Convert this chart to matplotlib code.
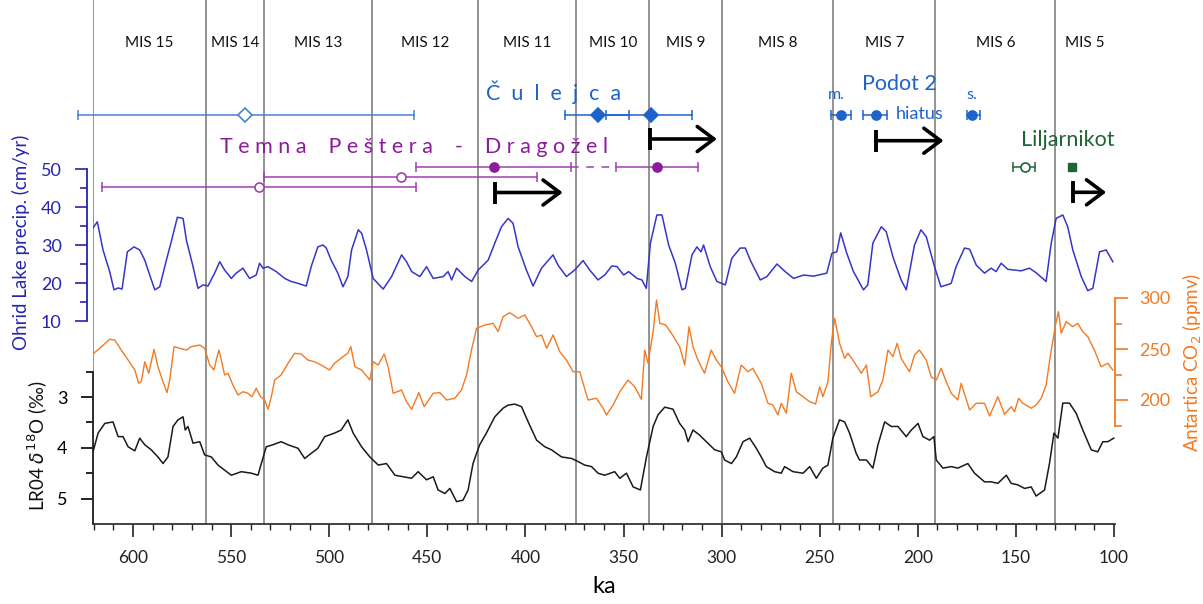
import matplotlib
matplotlib.use("Agg")
import matplotlib.pyplot as plt
from matplotlib.ticker import FixedLocator

plt.rcParams['font.family'] = ['Lato', 'DejaVu Sans']
plt.rcParams['mathtext.fontset'] = 'dejavusans'

# ---- curves (ka, value) ----
precip_ka = [620.4, 618.2, 615.3, 611.9, 609.7, 607.6, 605.6, 602.9, 599.5, 596.6, 594.0, 591.5,
             588.9, 586.4, 583.0, 580.5, 577.4, 574.5, 572.8, 569.4, 566.9, 564.3, 561.8, 558.4,
             555.8, 553.3, 549.9, 547.4, 544.0, 540.6, 537.2, 535.5, 533.8, 531.2, 527.0, 522.7,
             519.4, 515.9, 511.7, 509.2, 505.8, 503.2, 501.5, 499.0, 495.6, 493.0, 490.5,
             488.6, 485.2, 483.5, 481.0, 477.6, 472.5, 468.2, 463.1, 460.6, 458.0, 453.8, 450.4,
             447.0, 441.9, 439.4, 437.6, 435.1, 430.9, 427.4, 424.1, 419.0, 415.6, 412.2, 408.8,
             406.3, 403.7, 399.5, 396.1, 391.8, 385.9, 383.4, 379.1, 374.9, 370.6, 367.2, 363.0,
             359.6, 355.9, 353.3, 349.9, 347.4, 343.1, 340.6, 338.4, 336.3, 333.0, 330.4, 327.0,
             323.6, 320.2, 318.5, 315.1, 312.6, 310.5, 309.2, 305.8, 302.4, 298.1, 294.8, 290.5,
             287.9, 285.4, 280.3, 276.9, 271.8, 267.6, 263.3, 258.2, 253.1, 246.4, 243.8, 241.3,
             239.3, 236.2, 232.8, 227.7, 225.5, 222.9, 218.6, 216.1, 212.7, 208.5, 205.9, 201.7,
             198.4, 195.7, 191.5, 188.2, 183.0, 180.5, 176.2, 173.6, 170.2, 166.0, 162.6, 160.1,
             157.5, 154.1, 150.7, 147.3, 143.1, 139.7, 134.6, 132.0, 129.5, 126.1, 123.6, 121.0,
             116.7, 113.4, 110.8, 107.4, 104.0, 100.6]
precip_val = [34.5, 36.1, 28.7, 23.0, 18.2, 18.7, 18.4, 28.2, 29.5, 28.7, 26.0, 22.1,
              18.2, 19.0, 26.0, 30.9, 37.3, 37.0, 31.3, 24.3, 18.6, 19.5, 19.2, 22.6,
              25.6, 23.4, 21.2, 22.6, 23.9, 21.2, 22.1, 25.2, 23.9, 24.3, 23.0, 21.2,
              20.4, 19.9, 19.2, 24.3, 29.5, 30.0, 29.2, 26.0, 22.6, 19.0, 21.7,
              28.7, 34.0, 33.1, 28.7, 21.2, 18.4, 21.7, 27.4, 25.6, 23.0, 21.7, 24.3,
              21.2, 21.7, 23.0, 20.8, 23.9, 21.7, 20.4, 23.4, 26.0, 30.5, 34.8, 37.0,
              35.7, 29.5, 23.4, 19.2, 23.9, 27.4, 24.7, 21.7, 23.4, 25.9, 23.4, 20.8,
              22.1, 24.5, 24.3, 22.1, 23.0, 21.2, 20.8, 18.6, 30.5, 37.9, 37.9, 30.0,
              25.2, 18.2, 18.6, 27.4, 29.5, 28.2, 30.0, 24.3, 20.4, 19.5, 26.5, 29.2,
              29.2, 26.0, 20.8, 21.7, 25.0, 23.0, 21.2, 22.1, 21.8, 22.6, 27.8, 28.2,
              33.2, 27.8, 23.0, 18.2, 19.5, 30.5, 34.8, 33.5, 26.9, 20.8, 18.2, 30.0,
              34.0, 32.2, 24.3, 19.0, 19.9, 24.3, 29.2, 28.9, 24.7, 22.6, 23.9, 23.0,
              25.2, 23.6, 23.4, 23.2, 23.9, 22.7, 20.4, 30.5, 37.0, 37.9, 34.8, 28.7,
              21.7, 18.0, 18.6, 28.2, 28.7, 25.6]

co2_ka = [620.4, 616.1, 611.9, 609.3, 606.0, 602.5, 599.1, 597.1, 595.8, 594.0, 592.0, 589.3,
          587.3, 584.7, 582.7, 581.3, 579.1, 576.2, 572.8, 570.3, 566.0, 563.5, 560.9, 558.7,
          557.6, 556.2, 555.0, 553.3, 551.6, 549.1, 546.5, 544.0, 541.4, 539.4, 537.2, 535.0,
          532.9, 531.2, 529.5, 527.8, 524.5, 521.0, 517.6, 514.3, 510.9, 507.4, 504.1, 499.8,
          497.3, 493.0, 490.5, 489.0, 486.9, 483.5, 479.3, 477.6, 475.0, 472.0, 470.0, 467.4,
          463.1, 460.6, 458.0, 454.3, 451.6, 447.0, 443.6, 440.2, 436.0, 432.6, 430.0, 427.5,
          424.9, 420.7, 416.5, 413.9, 411.4, 408.0, 403.7, 400.3, 396.9, 394.3, 391.8, 389.2,
          385.9, 382.5, 379.1, 375.7, 372.3, 368.1, 363.8, 360.4, 358.7, 355.3, 351.9, 347.7,
          344.3, 340.9, 339.2, 337.5, 334.9, 333.2, 331.5, 328.5, 325.6, 321.4, 318.8, 316.6,
          314.6, 312.1, 308.7, 305.3, 302.7, 300.2, 296.8, 293.4, 290.0, 286.6, 284.1, 279.8,
          276.4, 273.9, 271.3, 269.6, 267.0, 264.5, 261.9, 258.5, 255.1, 252.1, 250.0, 248.4,
          245.8, 244.1, 242.4, 239.9, 237.3, 235.6, 233.1, 228.8, 226.2, 224.0, 220.3, 217.8,
          215.2, 212.7, 210.5, 208.5, 205.9, 204.2, 201.7, 199.2, 195.7, 193.2, 190.6, 188.1,
          185.5, 183.0, 179.6, 177.9, 173.6, 170.2, 166.0, 163.4, 159.2, 155.8, 152.4, 150.7,
          148.6, 146.5, 142.2, 139.7, 137.1, 134.6, 132.0, 129.5, 128.3, 126.9, 124.4, 121.0,
          118.5, 115.9, 113.4, 110.0, 106.6, 103.2, 100.6]
co2_val = [245.1, 252.3, 259.5, 258.8, 249.0, 239.2, 229.4, 216.4, 217.9, 237.5, 226.2, 249.7,
           232.6, 217.9, 207.2, 219.6, 252.3, 250.7, 249.0, 252.3, 253.9, 250.7, 234.3, 229.4,
           239.2, 249.0, 239.2, 224.5, 226.2, 214.7, 204.9, 208.1, 206.6, 203.2, 211.5, 203.2,
           200.0, 190.9, 203.2, 219.6, 224.5, 236.0, 245.8, 245.1, 239.2, 237.5, 234.3, 229.4,
           236.0, 242.5, 245.8, 252.3, 232.6, 229.4, 219.6, 237.5, 234.3, 245.1, 232.6, 206.6,
           209.8, 198.3, 190.9, 207.2, 193.4, 206.6, 207.2, 200.0, 201.7, 209.8, 224.5, 249.0,
           270.3, 273.5, 275.2, 267.0, 281.7, 285.6, 280.1, 283.3, 271.9, 262.1, 263.7, 250.7,
           263.7, 247.4, 239.2, 227.7, 227.7, 200.0, 201.7, 191.9, 185.3, 195.1, 208.1, 219.6,
           213.0, 200.7, 249.0, 236.0, 267.0, 298.0, 275.2, 273.5, 265.4, 252.3, 234.3, 271.9,
           252.3, 239.2, 226.2, 249.0, 239.2, 232.6, 217.9, 206.6, 234.3, 227.7, 231.1, 216.4,
           196.8, 195.1, 185.3, 196.8, 187.0, 226.2, 208.1, 203.2, 198.3, 196.1, 213.0, 203.2,
           217.9, 255.6, 280.1, 255.6, 240.9, 245.8, 239.2, 226.2, 234.3, 203.2, 208.1, 219.6,
           249.0, 242.5, 255.6, 240.9, 232.6, 227.7, 244.1, 249.0, 239.2, 222.8, 219.6, 231.1,
           217.9, 206.6, 200.0, 216.4, 190.2, 196.8, 196.8, 184.3, 203.2, 186.0, 193.4, 188.5,
           201.7, 196.8, 191.9, 195.1, 201.7, 214.7, 249.0, 276.8, 286.6, 265.4, 276.8, 271.9,
           275.2, 267.0, 262.1, 249.0, 232.6, 236.0, 229.4]

lr04_ka = [620.4, 617.8, 614.4, 610.2, 607.6, 605.1, 602.5, 599.1, 596.6, 594.0, 590.7, 587.3,
           584.7, 582.2, 579.6, 577.1, 574.5, 573.4, 572.0, 569.4, 566.0, 563.5, 560.1, 556.7,
           553.3, 549.9, 544.8, 539.7, 536.3, 534.6, 532.1, 528.7, 524.5, 521.0, 515.9, 512.5,
           509.2, 505.8, 502.3, 497.3, 493.9, 490.5, 487.8, 483.5, 479.3, 475.0, 470.8, 466.5,
           462.3, 458.0, 454.7, 450.4, 447.0, 444.5, 441.1, 438.5, 435.1, 431.8, 429.2, 426.7,
           424.9, 423.3, 419.9, 415.6, 411.4, 408.8, 405.4, 402.0, 398.6, 394.3, 390.1, 386.7,
           381.6, 376.5, 373.2, 369.8, 366.3, 363.0, 359.6, 354.5, 351.9, 348.5, 345.1, 341.4,
           338.3, 334.9, 332.4, 329.0, 324.8, 321.4, 318.8, 317.1, 314.6, 311.2, 307.8, 303.5,
           300.1, 298.5, 295.0, 292.5, 289.1, 285.7, 282.3, 279.8, 277.2, 273.0, 269.6, 267.9,
           263.6, 258.5, 255.1, 251.7, 248.4, 245.8, 243.3, 239.9, 237.3, 234.8, 231.4, 229.7,
           226.2, 222.9, 220.3, 216.9, 213.5, 210.1, 205.9, 203.3, 199.9, 197.4, 194.0, 191.8,
           190.6, 187.2, 183.0, 179.6, 174.5, 171.1, 166.0, 162.6, 159.2, 154.9, 152.4, 149.0,
           145.6, 142.2, 139.7, 135.4, 132.9, 130.6, 128.6, 126.1, 122.7, 119.3, 115.9, 111.6,
           108.3, 105.7, 103.2, 100.1]
lr04_val = [4.08, 3.71, 3.52, 3.49, 3.78, 3.78, 3.98, 4.06, 3.81, 3.94, 4.04, 4.18,
            4.31, 4.18, 3.58, 3.45, 3.39, 3.65, 3.58, 3.91, 3.88, 4.14, 4.18, 4.34,
            4.44, 4.54, 4.47, 4.50, 4.54, 4.31, 3.98, 3.94, 3.88, 3.94, 4.01, 4.21,
            4.11, 4.01, 3.78, 3.71, 3.65, 3.45, 3.71, 3.98, 4.18, 4.34, 4.31, 4.54,
            4.57, 4.60, 4.47, 4.63, 4.57, 4.83, 4.90, 4.80, 5.06, 5.03, 4.83, 4.31,
            4.11, 3.94, 3.71, 3.39, 3.22, 3.16, 3.14, 3.19, 3.49, 3.85, 3.98, 4.04,
            4.18, 4.21, 4.27, 4.34, 4.37, 4.50, 4.54, 4.47, 4.60, 4.50, 4.77, 4.83,
            4.18, 3.58, 3.35, 3.20, 3.24, 3.52, 3.65, 3.88, 3.65, 3.75, 3.88, 4.04,
            4.08, 4.24, 4.31, 4.18, 3.88, 3.81, 4.01, 4.18, 4.37, 4.47, 4.50, 4.37,
            4.47, 4.50, 4.37, 4.60, 4.40, 4.34, 3.81, 3.45, 3.49, 3.71, 4.11, 4.24,
            4.24, 4.40, 3.94, 3.49, 3.58, 3.58, 3.78, 3.65, 3.52, 3.78, 3.85, 3.78,
            4.24, 4.40, 4.37, 4.40, 4.31, 4.50, 4.67, 4.67, 4.70, 4.54, 4.70, 4.73,
            4.80, 4.77, 4.95, 4.83, 4.31, 3.71, 3.81, 3.12, 3.12, 3.32, 3.65, 4.04,
            4.08, 3.88, 3.88, 3.81]

# marine isotope stages
mis_bounds = [620.4, 563, 533, 478, 424, 374, 337, 300, 243, 191, 130, 99.75]
mis_names = ['MIS 15', 'MIS 14', 'MIS 13', 'MIS 12', 'MIS 11', 'MIS 10',
             'MIS 9', 'MIS 8', 'MIS 7', 'MIS 6', 'MIS 5']

# speleothem ages (ka): age, older limit, younger limit
culejca_age = [543, 363, 336]
culejca_old = [628, 380, 359]
culejca_young = [457, 347, 315]
temna_age = [416, 333, 463.5, 536]
temna_old = [456, 353.6, 533, 616]
temna_young = [377, 312, 394, 456]
podot_age = [239.3, 221.5, 172.2]
podot_old = [244.1, 228.0, 174.8]
podot_young = [233.9, 215.7, 168.5]
lilj_age = [145.6, 121.3]
lilj_old = [151.6, 121.3]
lilj_young = [140.5, 121.3]
# growth arrows (start ka, end ka)
arrow_start = [415.6, 336.6, 221.5, 121.0]
arrow_end = [381.0, 302.4, 186.9, 104.0]

BLUE = '#3636c8'
BLUE_AX = '#2424b0'
ORANGE = '#f27a22'
CUL = '#1f62cc'
PURPLE = '#8c1c9c'
GREEN = '#1e6535'
GRID = '#8a8a8a'

W, H = 1203, 604
fig = plt.figure(figsize=(W / 100, H / 100), dpi=100)
left_px, right_px, top_px, bot_px = 93, 1114.5, 0, 524
rect = [left_px / W, 1 - bot_px / H, (right_px - left_px) / W, (bot_px - top_px) / H]
xlim = (620.4, 99.75)


def py(v_at, px_at, v_at2, px_at2):
    # y-limits so that the given values land on the given pixel rows
    s = (v_at2 - v_at) / (px_at2 - px_at)
    return v_at + (bot_px - px_at) * s, v_at + (top_px - px_at) * s


# main axes: LR04 + x axis
ax = fig.add_axes(rect)
ax.set_xlim(*xlim)
ax.set_ylim(*py(3, 397, 4, 447.8))
for b in mis_bounds[:-1]:
    ax.axvline(b, color=GRID, lw=1.3, zorder=1)
ax.plot(lr04_ka, lr04_val, color='#1a1a1a', lw=1.1, zorder=3)
for s in ['top', 'right']:
    ax.spines[s].set_visible(False)
ax.spines['left'].set_bounds(2.5, 5.5)
ax.spines['left'].set_color('#222222')
ax.spines['bottom'].set_color('#333333')
ax.spines['left'].set_linewidth(1.3)
ax.spines['bottom'].set_linewidth(1.3)
ax.yaxis.set_major_locator(FixedLocator([3, 4, 5]))
ax.yaxis.set_minor_locator(FixedLocator([2.5, 3.5, 4.5]))
ax.xaxis.set_major_locator(FixedLocator(list(range(100, 601, 50))))
ax.xaxis.set_minor_locator(FixedLocator([v for v in range(100, 621, 10) if v % 50]))
ax.tick_params(axis='y', which='major', length=8.5, width=1.2, labelsize=13, pad=10)
ax.tick_params(axis='y', which='minor', length=5, width=1.2)
ax.tick_params(axis='x', which='major', length=9, width=1.2, labelsize=12.5, pad=10, colors='#222222')
ax.tick_params(axis='x', which='minor', length=4.5, width=1.0, colors='#222222')
ax.set_xlabel('ka', fontsize=17, labelpad=7)
ax.patch.set_visible(False)

# CO2 axes (right)
axc = fig.add_axes(rect, sharex=ax)
axc.set_ylim(*py(300, 298, 200, 400))
axc.plot(co2_ka, co2_val, color=ORANGE, lw=1.0, zorder=3)
for s in ['top', 'left', 'bottom']:
    axc.spines[s].set_visible(False)
axc.spines['right'].set_bounds(175, 300)
axc.spines['right'].set_color(ORANGE)
axc.spines['right'].set_linewidth(1.3)
axc.yaxis.tick_right()
axc.yaxis.set_major_locator(FixedLocator([200, 250, 300]))
axc.yaxis.set_minor_locator(FixedLocator([175, 225, 275]))
axc.tick_params(axis='y', which='major', length=9, width=1.2, colors=ORANGE, labelsize=13, pad=9)
axc.tick_params(axis='y', which='minor', length=5, width=1.2, colors=ORANGE)
axc.tick_params(axis='x', which='both', bottom=False, labelbottom=False)
axc.patch.set_visible(False)

# precipitation axes (left, offset)
axp = fig.add_axes(rect, sharex=ax)
axp.set_ylim(*py(50, 169, 10, 321))
axp.plot(precip_ka, precip_val, color=BLUE, lw=1.1, zorder=3)
for s in ['top', 'right', 'bottom']:
    axp.spines[s].set_visible(False)
axp.spines['left'].set_position(('outward', 4))
axp.spines['left'].set_bounds(10, 50)
axp.spines['left'].set_color(BLUE_AX)
axp.spines['left'].set_linewidth(1.3)
axp.yaxis.set_major_locator(FixedLocator([10, 20, 30, 40, 50]))
axp.yaxis.set_minor_locator(FixedLocator([15, 25, 35, 45]))
axp.tick_params(axis='y', which='major', length=8.5, width=1.2, colors=BLUE_AX, labelsize=13, pad=10)
axp.tick_params(axis='y', which='minor', length=5, width=1.2, colors=BLUE_AX)
axp.tick_params(axis='x', which='both', bottom=False, labelbottom=False)
axp.patch.set_visible(False)

# overlay for labels and ages: x in ka, y in pixels from the top
axt = fig.add_axes(rect, sharex=ax)
axt.set_ylim(bot_px, top_px)
axt.axis('off')

for i, name in enumerate(mis_names):
    axt.text((mis_bounds[i] + mis_bounds[i + 1]) / 2, 43, name, ha='center', va='center',
             fontsize=11, color='#111111')


def age_bar(age, old, young, y, color, lcolor, marker, filled, ms):
    axt.plot([old, young], [y, y], color=lcolor, lw=1.1, clip_on=False)
    axt.plot([old, young], [y, y], ls='none', marker='|', ms=7, mew=1.1, color=lcolor, clip_on=False)
    if age is not None:
        axt.plot([age], [y], marker=marker, ms=ms, mew=1.2, mec=color,
                 mfc=color if filled else 'white', clip_on=False, zorder=5)


# Culejca
axt.text(385.5, 92, '  '.join('Čulejca'), ha='center', va='center', fontsize=15.5, color=CUL)
age_bar(culejca_age[0], culejca_old[0], culejca_young[0], 115, '#4a80d4', '#4a80d4', 'D', False, 7)
age_bar(culejca_age[1], culejca_old[1], culejca_young[1], 115, CUL, CUL, 'D', True, 7.5)
age_bar(culejca_age[2], culejca_old[2], culejca_young[2], 115, CUL, CUL, 'D', True, 7.5)

# Temna Pestera - Dragozel
temna_txt = '    '.join(' '.join(w) for w in 'Temna Peštera - Dragožel'.split(' '))
axt.text(456.9, 147, temna_txt, ha='center', va='center', fontsize=15.5, color=PURPLE)
age_bar(temna_age[0], temna_old[0], temna_young[0], 166.7, PURPLE, '#a040b0', 'o', True, 6.5)
axt.plot([temna_young[0], temna_old[1]], [166.7, 166.7], color='#a040b0', lw=1.1,
         dashes=(5, 5))
age_bar(temna_age[1], temna_old[1], temna_young[1], 166.7, PURPLE, '#a040b0', 'o', True, 6.5)
age_bar(temna_age[2], temna_old[2], temna_young[2], 176.7, '#a040b0', '#a040b0', 'o', False, 6.5)
age_bar(temna_age[3], temna_old[3], temna_young[3], 186.7, '#a040b0', '#a040b0', 'o', False, 6.5)

# Podot 2
axt.text(209.3, 84, 'Podot 2', ha='center', va='center', fontsize=15.5, color=CUL)
axt.text(241.4, 95, 'm.', ha='center', va='center', fontsize=11.5, color=CUL)
axt.text(172.3, 95, 's.', ha='center', va='center', fontsize=11.5, color=CUL)
axt.text(199.3, 114, 'hiatus', ha='center', va='center', fontsize=13, color=CUL)
for a, o, yg in zip(podot_age, podot_old, podot_young):
    age_bar(a, o, yg, 115, CUL, CUL, 'o', True, 6.5)

# Liljarnikot
axt.text(123.4, 140, 'Liljarnikot', ha='center', va='center', fontsize=15.5, color=GREEN)
age_bar(lilj_age[0], lilj_old[0], lilj_young[0], 166.7, GREEN, GREEN, 'o', False, 6.5)
axt.plot([lilj_age[1]], [166.7], marker='s', ms=5.5, color=GREEN, zorder=5)

# growth arrows
for s0, s1, y in zip(arrow_start, arrow_end, [192.5, 139, 140.7, 192.3]):
    axt.plot([s0, s0], [y - 11, y + 11], color='black', lw=2.8, solid_capstyle='butt')
    axt.annotate('', xy=(s1, y), xytext=(s0, y),
                 arrowprops=dict(arrowstyle='->,head_length=0.6,head_width=0.45', lw=2.6,
                                 color='black', shrinkA=0, shrinkB=0, mutation_scale=20))

# axis titles
fig.text(21 / W, 1 - 242 / H, 'Ohrid Lake precip. (cm/yr)', rotation=90, ha='center',
         va='center', fontsize=13.5, color=BLUE_AX)
fig.text(38 / W, 1 - 446 / H, r'LR04 $\delta^{18}$O (‰)', rotation=90, ha='center',
         va='center', fontsize=13.5, color='#111111')
fig.text(1192 / W, 1 - 362 / H, r'Antartica CO$_2$ (ppmv)', rotation=90, ha='center',
         va='center', fontsize=13.5, color=ORANGE)

fig.savefig('out.png', dpi=100)
